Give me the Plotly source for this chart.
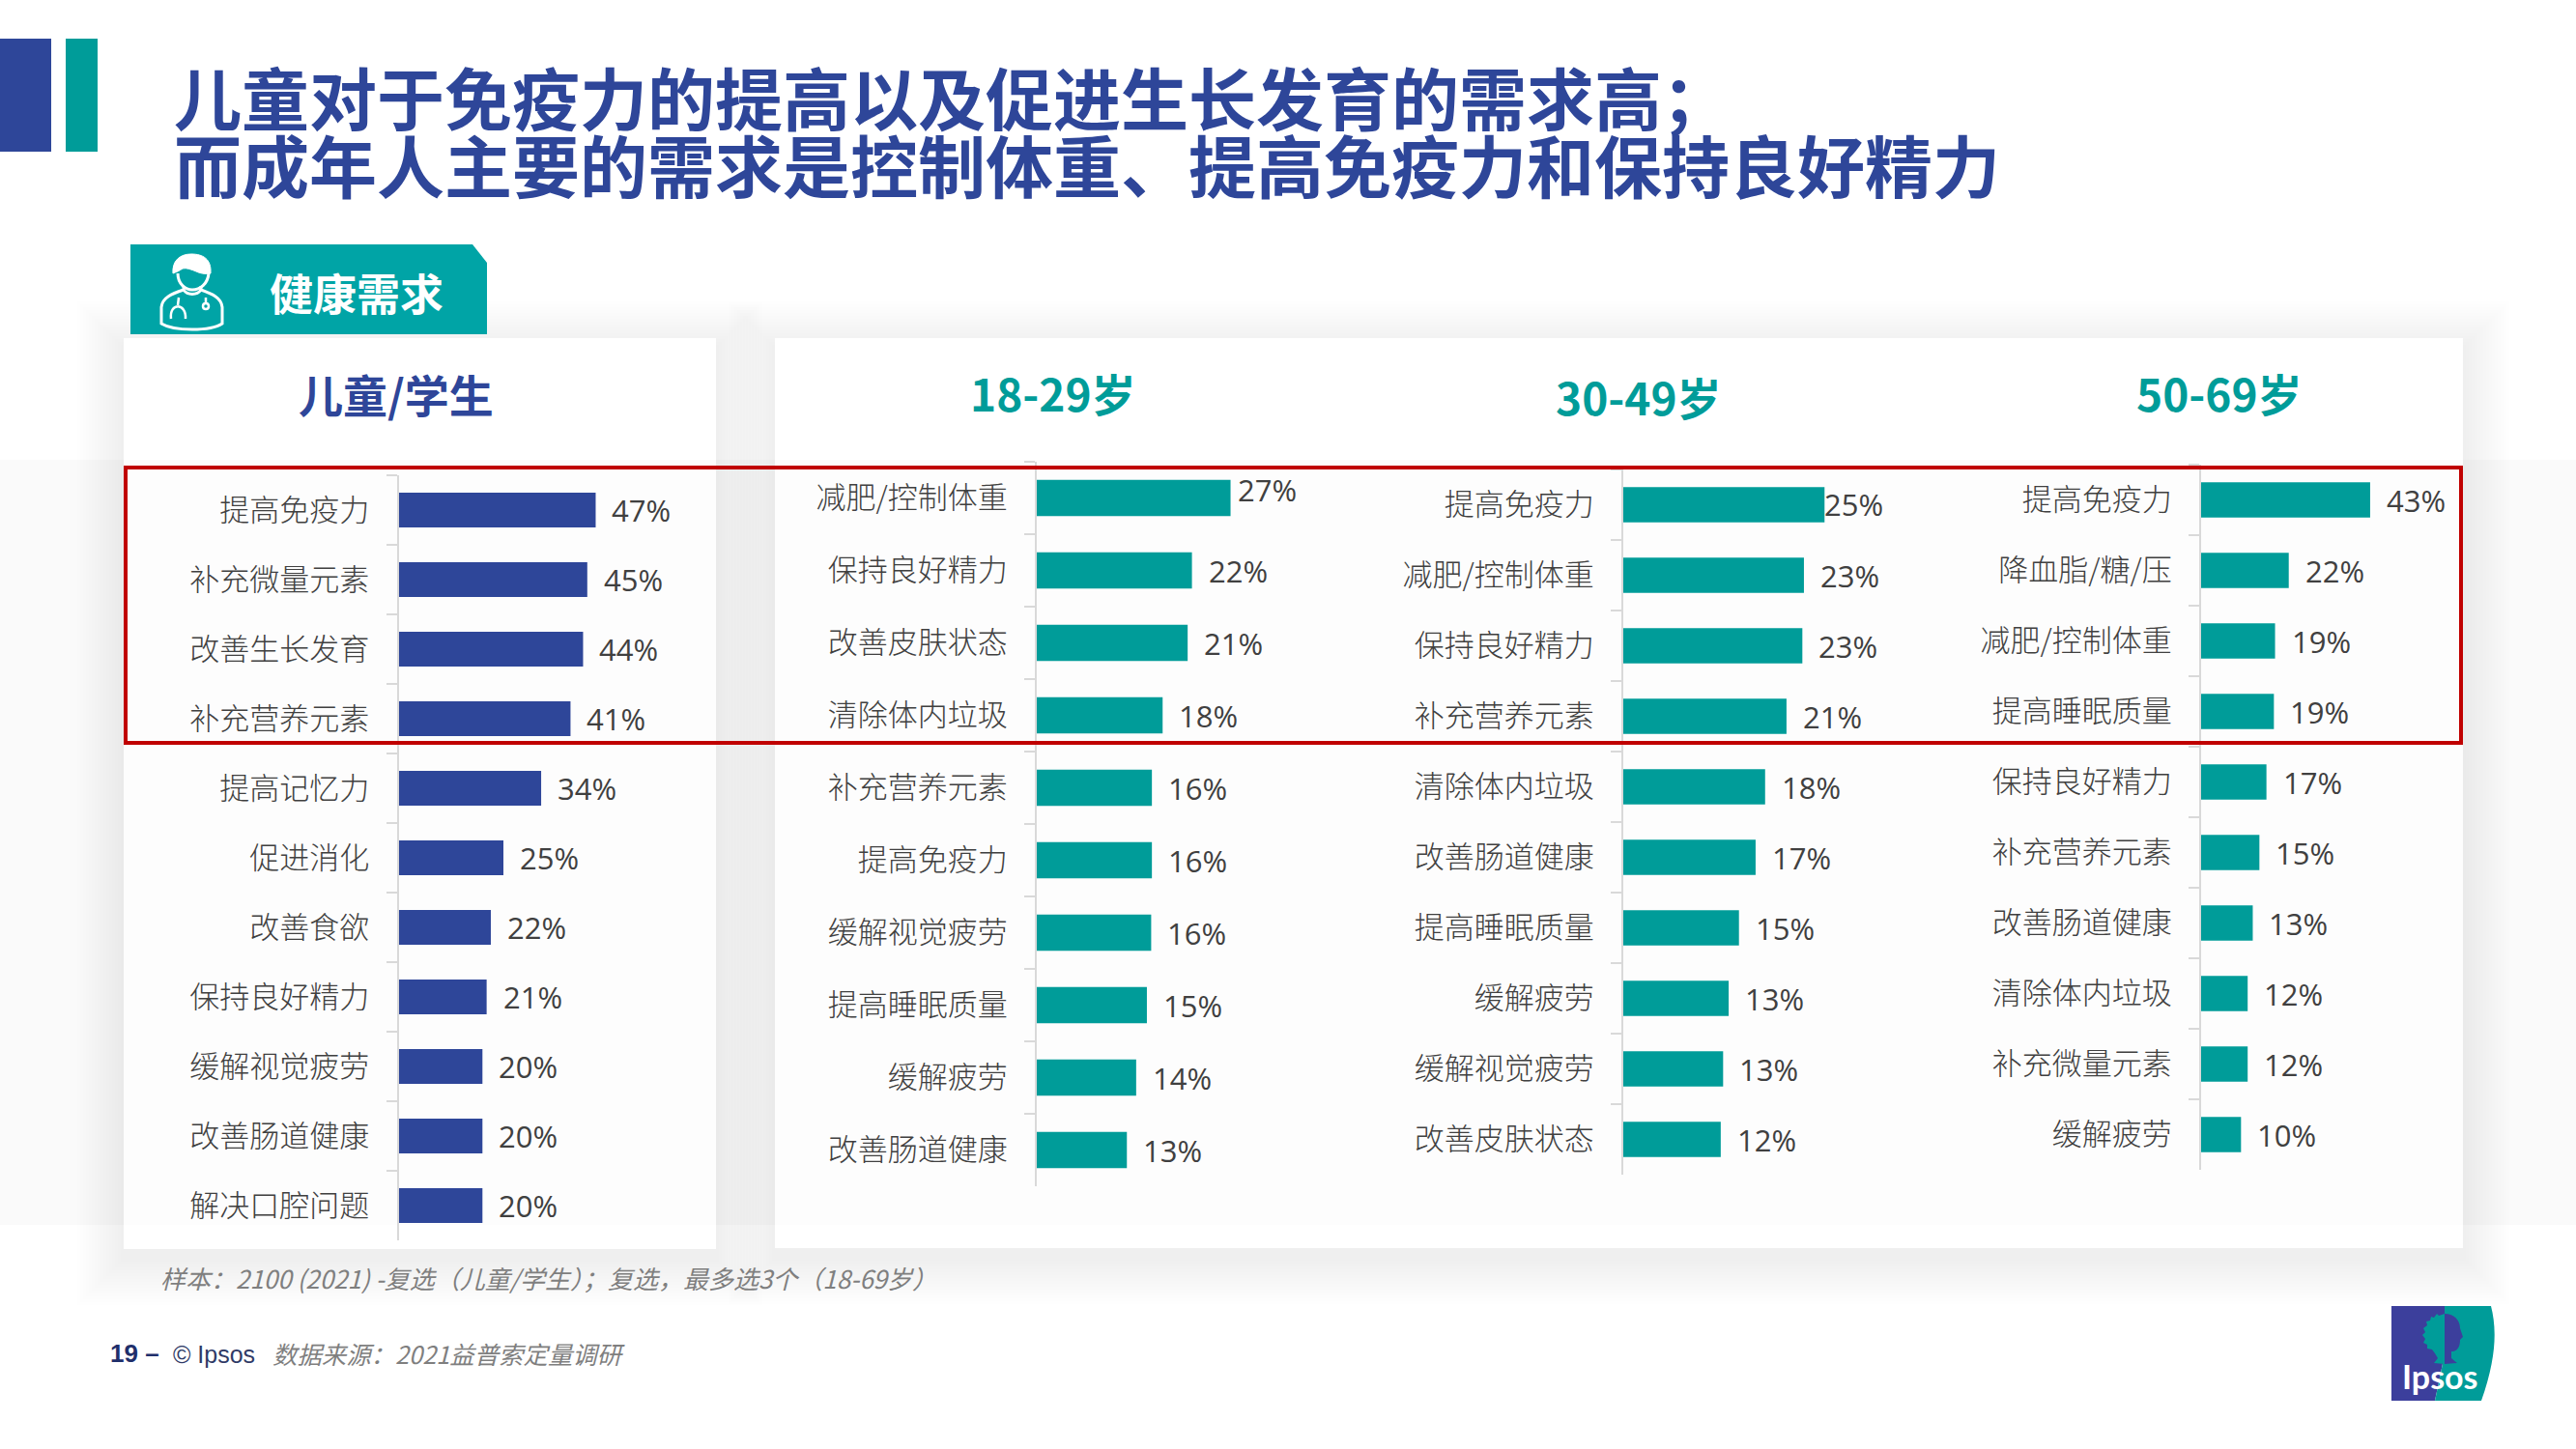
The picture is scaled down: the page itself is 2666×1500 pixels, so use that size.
import re
import plotly.graph_objects as go

W = 2666
H = 1500
BLUE = "#2E4699"
TEAL = "#009C99"
TAB_TEAL = "#00A4A6"
LOGO_BLUE = "#3C3F9C"
TEXT = "#404040"
CJK = "Noto Sans CJK SC"

# data
kids_labels = ["提高免疫力", "补充微量元素", "改善生长发育", "补充营养元素", "提高记忆力", "促进消化",
               "改善食欲", "保持良好精力", "缓解视觉疲劳", "改善肠道健康", "解决口腔问题"]
kids_values = [47, 45, 44, 41, 34, 25, 22, 21, 20, 20, 20]

young_labels = ["减肥/控制体重", "保持良好精力", "改善皮肤状态", "清除体内垃圾", "补充营养元素",
                "提高免疫力", "缓解视觉疲劳", "提高睡眠质量", "缓解疲劳", "改善肠道健康"]
young_values = [27.1, 21.7, 21.1, 17.6, 16.1, 16.1, 16.0, 15.4, 13.9, 12.6]

mid_labels = ["提高免疫力", "减肥/控制体重", "保持良好精力", "补充营养元素", "清除体内垃圾",
              "改善肠道健康", "提高睡眠质量", "缓解疲劳", "缓解视觉疲劳", "改善皮肤状态"]
mid_values = [25.4, 22.8, 22.6, 20.6, 17.9, 16.7, 14.6, 13.3, 12.6, 12.3]

old_labels = ["提高免疫力", "降血脂/糖/压", "减肥/控制体重", "提高睡眠质量", "保持良好精力",
              "补充营养元素", "改善肠道健康", "清除体内垃圾", "补充微量元素", "缓解疲劳"]
old_values = [43.2, 22.4, 18.9, 18.6, 16.7, 14.9, 13.2, 11.9, 11.9, 10.2]

title_lines = ["儿童对于免疫力的提高以及促进生长发育的需求高；", "而成年人主要的需求是控制体重、提高免疫力和保持良好精力"]
sample_note = "样本：2100 (2021) -复选（儿童/学生）；复选，最多选3个（18-69岁）"
source_note = "数据来源：2021益普索定量调研"


def px(x):
    return x / W


def py(y):
    return 1 - y / H


def to_paper(d):
    # path written in page pixels -> paper coords
    out = []
    is_x = True
    for tok in re.findall(r"[A-Z]|-?[\d.]+", d):
        if tok.isalpha():
            out.append(tok)
            is_x = True
        else:
            out.append(f"{px(float(tok)):.5f}" if is_x else f"{py(float(tok)):.5f}")
            is_x = not is_x
    return " ".join(out)


fig = go.Figure()
shapes = []
notes = []


def rect(x0, y0, x1, y1, color, opacity=1, layer="below"):
    shapes.append(dict(type="rect", xref="paper", yref="paper", x0=px(x0), x1=px(x1), y0=py(y0), y1=py(y1),
                       fillcolor=color, opacity=opacity, line_width=0, layer=layer))


def draw(d, fill=None, line=None, width=0, layer="above"):
    shapes.append(dict(type="path", xref="paper", yref="paper", path=to_paper(d), fillcolor=fill or "rgba(0,0,0,0)",
                       line=dict(color=line or "rgba(0,0,0,0)", width=width), layer=layer))


def note(text, x, y, size, color=TEXT, anchor="left", bold=False, italic=False, family=CJK):
    notes.append(dict(xref="paper", yref="paper", x=px(x), y=py(y), text=text, showarrow=False, xanchor=anchor,
                      yanchor="middle", font=dict(size=size, color=color, family=family,
                                                  weight=700 if bold else 400,
                                                  style="italic" if italic else "normal")))


# grey band behind the cards
rect(0, 476, W, 1268, "#FAFAFA")

# cards with a soft shadow
for x0, y0, x1, y1 in [(128, 350, 741, 1293), (802, 350, 2549, 1292)]:
    for k in range(16, 0, -1):
        grow = k * 3
        rect(x0 - grow, y0 - grow + 10, x1 + grow, y1 + grow + 10, "#000000", 0.0045)
    rect(x0, y0, x1, y1, "#FFFFFF")
    rect(x0, 476, x1, 1268, "#FDFDFD")

# corner marks and tab
rect(0, 40, 53, 157, BLUE)
rect(68, 40, 101, 157, TEAL)
draw("M 135 253 L 489 253 L 504 272 L 504 346 L 135 346 Z", fill=TAB_TEAL, layer="below")

# doctor icon
draw("M 179 283 C 178 270 186 263 198 263 C 210 263 219 268 218 283 C 212 284 207 283 203 281 C 198 279 193 277 189 278 C 186 280 182 282 179 283 Z",
     fill="white", line="white", width=1)
draw("M 184 283 C 184 294 192 300 199 300 C 207 300 215 294 216 283", line="white", width=3)
draw("M 190 296 L 190 300 C 178 304 168 308 167 318 L 167 335 C 180 343 218 343 230 335 L 230 318 C 229 308 219 304 208 300 L 208 296",
     line="white", width=3)
draw("M 190 300 C 194 306 204 306 208 300", line="white", width=3)
draw("M 185 308 L 184 316 M 177 330 C 175 313 193 313 192 330", line="white", width=2.5)
draw("M 213 308 L 213 314 M 210 317 C 210 313 216 313 216 317 C 216 321 210 321 210 317 Z", line="white", width=2.5)

# logo
draw("M 2475 1352 L 2530 1352 L 2530 1402 L 2520 1450 L 2475 1450 Z", fill=LOGO_BLUE)
draw("M 2530 1352 L 2578 1352 C 2584 1375 2584 1405 2568 1450 L 2520 1450 L 2530 1402 Z", fill=TEAL)
draw("M 2530 1360 L 2524 1362 L 2522 1360 L 2519 1364 L 2516 1363 L 2515 1367 L 2511 1368 L 2512 1372 L 2508 1375 L 2510 1379 "
     "L 2507 1382 L 2510 1386 L 2508 1390 L 2512 1392 L 2512 1396 L 2517 1397 L 2520 1401 L 2523 1406 L 2519 1411 L 2530 1412 Z",
     fill=TEAL)
draw("M 2530 1360 C 2540 1360 2546 1367 2546 1375 L 2549 1384 L 2546 1387 C 2546 1395 2543 1399 2537 1399 L 2537 1406 L 2543 1411 L 2530 1412 Z",
     fill=LOGO_BLUE)
note("Ipsos", 2525, 1424, 34, color="white", anchor="center", bold=True, family="Lato")

# panels: labels, values, colour, axis x, px per %, y top, y bottom
panels = [
    (kids_labels, kids_values, BLUE, 412.5, 4.34, 492, 1284),
    (young_labels, young_values, TEAL, 1073, 7.4, 478, 1228),
    (mid_labels, mid_values, TEAL, 1680, 8.2, 486, 1216),
    (old_labels, old_values, TEAL, 2278, 4.05, 481, 1211),
]
# the two labels the original pushes up against their bars
label_nudge = {(2, "减肥/控制体重"): (5, 9), (3, "提高免疫力"): (-2, 1)}

layout_axes = {}
for i, (labels, values, color, axis_x, scale, top, bottom) in enumerate(panels, start=1):
    right = axis_x + 290
    xname = "x" if i == 1 else f"x{i}"
    yname = "y" if i == 1 else f"y{i}"
    fig.add_trace(go.Bar(x=values, y=labels, orientation="h", marker=dict(color=color, line_width=0), width=0.5,
                         xaxis=xname, yaxis=yname, showlegend=False, hoverinfo="skip"))
    layout_axes[xname.replace("x", "xaxis")] = dict(domain=[px(axis_x), px(right)], range=[0, (right - axis_x) / scale],
                                                    visible=False, anchor=yname)
    layout_axes[yname.replace("y", "yaxis")] = dict(domain=[py(bottom), py(top)], anchor=xname, type="category",
                                                    categoryorder="array", categoryarray=labels,
                                                    autorange="reversed", showgrid=False, zeroline=False,
                                                    showline=True, linecolor="#D9D9D9", linewidth=2,
                                                    ticks="outside", tickson="boundaries", ticklen=11,
                                                    tickcolor="#D9D9D9", tickwidth=2, ticklabelstandoff=22,
                                                    tickfont=dict(size=31, color=TEXT, family=CJK, weight=300))
    for lab, val in zip(labels, values):
        xs, ys = label_nudge.get((i, lab), (15, 0))
        notes.append(dict(xref=xname, yref=yname, x=val, y=lab, text=f"{val:.0f}%", showarrow=False, xanchor="left",
                          xshift=xs, yshift=ys, font=dict(size=31, color=TEXT, family="Open Sans", weight=400)))

# headline and panel heads
note(title_lines[0], 178, 99, 70, color=BLUE, bold=True)
note(title_lines[1], 178, 170, 70, color=BLUE, bold=True)
note("健康需求", 369, 302, 45, color="white", anchor="center", bold=True)
note("儿童/学生", 410, 407, 46, color=BLUE, anchor="center", bold=True)
note("18-29岁", 1090, 406, 46, color=TEAL, anchor="center", bold=True)
note("30-49岁", 1696, 410, 46, color=TEAL, anchor="center", bold=True)
note("50-69岁", 2297, 406, 46, color=TEAL, anchor="center", bold=True)

# red highlight
shapes.append(dict(type="rect", xref="paper", yref="paper", x0=px(130), x1=px(2547), y0=py(484), y1=py(769),
                   line=dict(color="#C00000", width=4), fillcolor="rgba(0,0,0,0)", layer="above"))

# footer
note(sample_note, 164, 1322, 26, color="#7F7F7F", italic=True)
note("19 –", 112, 1401, 26, color="#1F2F6B", bold=True, family="Liberation Sans")
note("© Ipsos", 177, 1402, 25, color="#2F3A66", family="Liberation Sans")
note(source_note, 280, 1401, 25.4, color="#7F7F7F", italic=True)

fig.update_layout(width=W, height=H, margin=dict(l=0, r=0, t=0, b=0), paper_bgcolor="white",
                  plot_bgcolor="rgba(0,0,0,0)", shapes=shapes, annotations=notes, **layout_axes)

fig.write_html("out.html", config={"displayModeBar": False}, post_script="document.body.style.margin='0';")
